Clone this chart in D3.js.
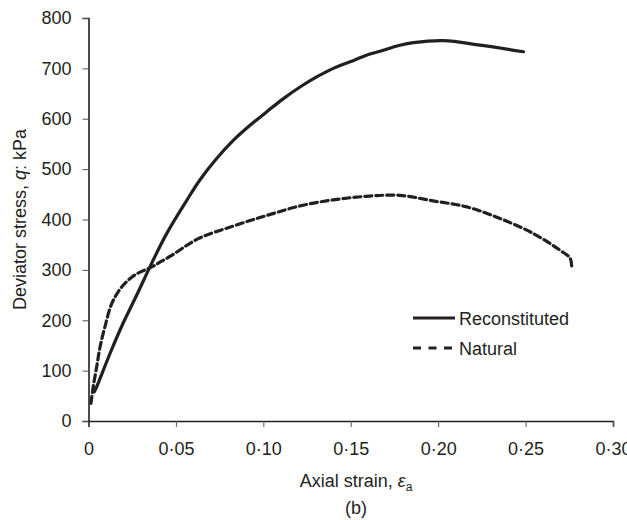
<!DOCTYPE html>
<html>
<head>
<meta charset="utf-8">
<script src="https://cdn.jsdelivr.net/npm/d3@7"></script>
<style>
  body { margin: 0; background: #fff; }
  text { font-family: "Liberation Sans", Arial, sans-serif; fill: #231f20; }
</style>
</head>
<body>
<script>
// strain values (axial strain) and deviator stress (kPa)
var reconStrain = [0.0033, 0.0047, 0.0123, 0.0199, 0.0276, 0.0361, 0.0447, 0.0562, 0.0638, 0.0733, 0.0828,
                   0.0924, 0.102, 0.1115, 0.121, 0.1305, 0.14, 0.1496, 0.159, 0.1687, 0.177, 0.1858,
                   0.203, 0.224, 0.2488];
var reconStress = [58, 68, 134, 195, 250, 313, 372, 438, 479, 521, 557,
                   587, 614, 640, 663, 683, 700, 713, 726, 736, 745, 751,
                   755, 746, 733];

var naturalStrain = [0.0014, 0.0027, 0.0047, 0.0066, 0.0094, 0.0133, 0.019, 0.0266, 0.0362, 0.0476, 0.0628,
                     0.0828, 0.102, 0.121, 0.14, 0.159, 0.178, 0.197, 0.2164, 0.2354, 0.2545,
                     0.2697, 0.2755, 0.2764];
var naturalStress = [35, 68, 108, 147, 187, 233, 266, 290, 306, 329, 362,
                     387, 408, 427, 439, 446, 448, 437, 425, 402, 372,
                     339, 323, 303];

var xTicks = [0, 0.05, 0.10, 0.15, 0.20, 0.25, 0.30];
var yTicks = [0, 100, 200, 300, 400, 500, 600, 700, 800];

var seriesNames = ["Reconstituted", "Natural"];
var seriesDash = [null, "7,4"];

var width = 627, height = 520;
var margin = {left: 88.5, right: 14, top: 18, bottom: 99};

var svg = d3.select("body").append("svg")
    .attr("width", width)
    .attr("height", height);

var x = d3.scaleLinear()
    .domain([0, 0.30])
    .range([margin.left, width - margin.right]);

var y = d3.scaleLinear()
    .domain([0, 800])
    .range([height - margin.bottom, margin.top]);

var fmt = function(d){ return d === 0 ? "0" : d3.format(".2f")(d).replace(".", "\u00b7"); };

// x axis
var xAxis = svg.append("g")
    .attr("transform", "translate(0," + y(0) + ")")
    .call(d3.axisBottom(x).tickValues(xTicks).tickFormat(fmt).tickSize(6).tickPadding(15));

// y axis
var yAxis = svg.append("g")
    .attr("transform", "translate(" + x(0) + ",0)")
    .call(d3.axisLeft(y).tickValues(yTicks).tickSize(6).tickPadding(11));

[xAxis, yAxis].forEach(function(ax){
    ax.select(".domain").attr("stroke", "#231f20").attr("stroke-width", 1.6);
    ax.selectAll(".tick line").attr("stroke", "#555").attr("stroke-width", 1);
    ax.selectAll(".tick text").style("font-size", "18px").attr("fill", "#231f20");
});

// axis titles
var xt = svg.append("text")
    .attr("x", 356)
    .attr("y", 487)
    .attr("text-anchor", "middle")
    .style("font-size", "18px");
xt.append("tspan").text("Axial strain, ");
xt.append("tspan").style("font-style", "italic").text("\u03b5");
xt.append("tspan").attr("dy", 4).style("font-size", "12px").text("a");

svg.append("text")
    .attr("x", 356)
    .attr("y", 514)
    .attr("text-anchor", "middle")
    .style("font-size", "18px")
    .text("(b)");

var yt = svg.append("text")
    .attr("transform", "translate(26," + (y(0) + y(800)) / 2 + ") rotate(-90)")
    .attr("text-anchor", "middle")
    .style("font-size", "18px");
yt.append("tspan").text("Deviator stress, ");
yt.append("tspan").style("font-style", "italic").text("q");
yt.append("tspan").text(": kPa");

// curves
var line = d3.line()
    .x(function(d){ return x(d[0]); })
    .y(function(d){ return y(d[1]); })
    .curve(d3.curveCatmullRom);

var series = [
    d3.zip(reconStrain, reconStress),
    d3.zip(naturalStrain, naturalStress)
];

svg.selectAll("path.curve")
    .data(series)
    .enter()
    .append("path")
    .attr("class", "curve")
    .attr("d", line)
    .attr("fill", "none")
    .attr("stroke", "#231f20")
    .attr("stroke-width", 3.2)
    .attr("stroke-linecap", "round")
    .attr("stroke-dasharray", function(d, i){ return seriesDash[i]; });

// legend
var legend = svg.append("g").attr("transform", "translate(413,318)");
seriesNames.forEach(function(name, i){
    var g = legend.append("g").attr("transform", "translate(0," + (i * 30) + ")");
    g.append("line")
        .attr("x1", 0).attr("x2", i === 1 ? 39 : 42)
        .attr("stroke", "#231f20")
        .attr("stroke-width", 3)
        .attr("stroke-dasharray", i === 1 ? "8,7.5" : null);
    g.append("text")
        .attr("x", 46)
        .attr("y", 6.5)
        .style("font-size", "18px")
        .text(name);
});
</script>
</body>
</html>
